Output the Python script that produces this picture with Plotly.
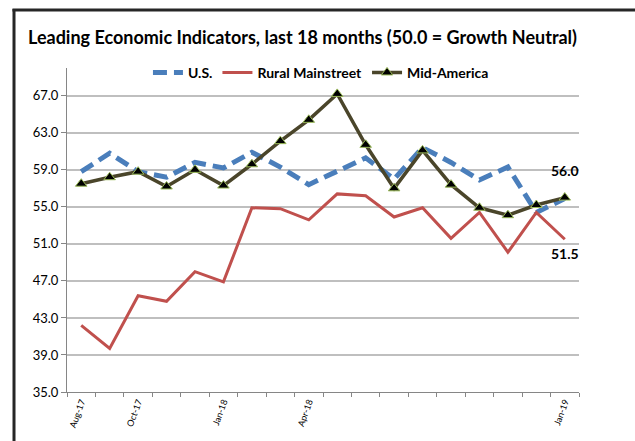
import plotly.graph_objects as go

months = ["Aug-17", "Sep-17", "Oct-17", "Nov-17", "Dec-17", "Jan-18", "Feb-18", "Mar-18",
          "Apr-18", "May-18", "Jun-18", "Jul-18", "Aug-18", "Sep-18", "Oct-18", "Nov-18",
          "Dec-18", "Jan-19"]
shown_labels = ["Aug-17", "Oct-17", "Jan-18", "Apr-18", "Jan-19"]

us = [58.8, 60.8, 58.8, 58.2, 59.8, 59.2, 60.9, 59.3, 57.4, 58.9, 60.3, 58.0,
      61.4, 59.8, 57.9, 59.3, 54.4, 55.9]
rural = [42.2, 39.7, 45.4, 44.8, 48.0, 46.9, 54.9, 54.8, 53.6, 56.4, 56.2, 53.9,
         54.9, 51.6, 54.4, 50.1, 54.4, 51.5]
mid = [57.5, 58.2, 58.8, 57.2, 59.0, 57.3, 59.6, 62.1, 64.4, 67.2, 61.7, 57.0,
       61.1, 57.4, 54.9, 54.1, 55.2, 56.0]

ytick_vals = [35, 39, 43, 47, 51, 55, 59, 63, 67]

FONT = "Lato"

fig = go.Figure()
fig.add_trace(go.Scatter(x=months, y=us, name="<b>U.S.</b>", mode="lines",
                         line=dict(color="#4A7EBB", width=5, dash="14px,7px")))
fig.add_trace(go.Scatter(x=months, y=rural, name="<b>Rural Mainstreet</b>", mode="lines",
                         line=dict(color="#C0504D", width=3)))
fig.add_trace(go.Scatter(x=months, y=mid, name="<b>Mid-America</b>", mode="lines+markers",
                         line=dict(color="#4A452A", width=3.5),
                         marker=dict(symbol="triangle-up", size=10, color="black",
                                     line=dict(color="#9BBB59", width=1))))

# end labels
fig.add_annotation(x=months[-1], y=mid[-1], text="<b>%.1f</b>" % mid[-1], showarrow=False,
                   yshift=27, font=dict(family=FONT, size=14, color="black"))
fig.add_annotation(x=months[-1], y=rural[-1], text="<b>%.1f</b>" % rural[-1], showarrow=False,
                   yshift=-14, font=dict(family=FONT, size=14, color="black"))

# outer frame (left and top edges)
fig.add_shape(type="line", xref="paper", yref="paper", x0=-0.1035, x1=-0.1035, y0=1.182, y1=-0.2,
              line=dict(color="#262626", width=3))
fig.add_shape(type="line", xref="paper", yref="paper", x0=-0.1065, x1=1.2, y0=1.179, y1=1.179,
              line=dict(color="#262626", width=3))

fig.update_layout(
    width=635, height=441,
    margin=dict(l=67, r=56, t=68, b=49),
    paper_bgcolor="white", plot_bgcolor="white",
    title=dict(text="<b>Leading Economic Indicators, last 18 months (50.0 = Growth Neutral)</b>",
               x=28/635, xanchor="left", y=1-38/441, yanchor="middle",
               font=dict(family=FONT, size=18, color="black")),
    legend=dict(orientation="h", x=0.496, xanchor="center", y=0.985, yanchor="middle",
                font=dict(family=FONT, size=14, color="black"), itemwidth=30,
                bgcolor="rgba(0,0,0,0)"),
    font=dict(family=FONT, color="black"),
)
fig.update_xaxes(type="category", range=[-0.5, 17.5], automargin=False,
                 tickson="boundaries", ticks="outside", ticklen=4,
                 tickcolor="#868686", showline=True, linecolor="#868686", linewidth=1,
                 showgrid=False, tickvals=months,
                 ticktext=[m if m in shown_labels else "" for m in months],
                 tickangle=-70, tickfont=dict(family=FONT, size=9, color="black"))
fig.update_yaxes(range=[35, 70], tickvals=ytick_vals, tickformat=".1f", automargin=False,
                 showgrid=True, gridcolor="#BFBFBF", gridwidth=1.5,
                 showline=True, linecolor="#868686", linewidth=1,
                 ticks="outside", ticklen=5, tickcolor="#868686",
                 tickfont=dict(family=FONT, size=13, color="black"), zeroline=False)

fig.write_html("out.html", config={"displayModeBar": False},
               post_script="document.body.style.margin='0';document.body.style.overflow='hidden';")
